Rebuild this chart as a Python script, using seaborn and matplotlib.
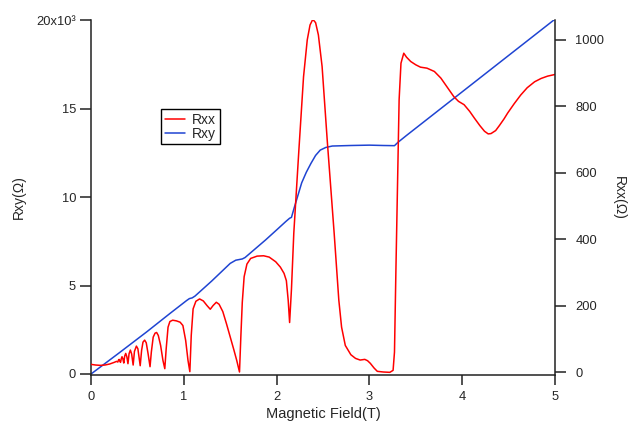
# Quantum Hall measurement: Rxx and Rxy vs magnetic field (two y axes, Igor-like look)

import pandas as pd
import seaborn as sns
import matplotlib
matplotlib.use('Agg')
import matplotlib.pyplot as plt

# Rxx trace (Ohm)
field_xx = [0.00, 0.05, 0.10, 0.15, 0.20, 0.25, 0.275, 0.289, 0.296, 0.303, 0.310, 0.318,
            0.326, 0.334, 0.343, 0.353, 0.363, 0.374, 0.386, 0.398, 0.410, 0.424, 0.438,
            0.454, 0.468, 0.489, 0.505, 0.53, 0.545, 0.56, 0.578, 0.595, 0.615, 0.636,
            0.65, 0.67, 0.69, 0.707, 0.725, 0.75, 0.775, 0.795, 0.81, 0.83, 0.85, 0.88,
            0.92, 0.96, 0.99, 1.02, 1.045, 1.065, 1.08, 1.10, 1.13, 1.17, 1.21, 1.25,
            1.285, 1.315, 1.35, 1.38, 1.42, 1.46, 1.50, 1.54, 1.57, 1.60, 1.615, 1.63,
            1.65, 1.68, 1.72, 1.79, 1.86, 1.92, 1.99, 2.04, 2.08, 2.105, 2.125, 2.14,
            2.16, 2.185, 2.24, 2.29, 2.33, 2.36, 2.39, 2.42, 2.45, 2.49, 2.545, 2.62,
            2.67, 2.70, 2.74, 2.80, 2.85, 2.90, 2.95, 2.98, 3.01, 3.05, 3.085, 3.15,
            3.22, 3.255, 3.27, 3.285, 3.30, 3.32, 3.34, 3.37, 3.40, 3.445, 3.50, 3.55,
            3.62, 3.70, 3.77, 3.84, 3.91, 3.96, 4.02, 4.08, 4.13, 4.19, 4.24, 4.28,
            4.31, 4.36, 4.40, 4.45, 4.49, 4.56, 4.63, 4.70, 4.78, 4.85, 4.92, 5.00]
rxx = [23, 21, 20, 21, 24, 29, 32, 30, 36, 38, 33, 29,
       40, 46, 40, 27, 48, 56, 46, 25, 55, 66, 54,
       21, 62, 78, 70, 19, 65, 90, 96, 88, 55, 16,
       60, 105, 117, 119, 110, 80, 35, 10, 70, 135, 152, 156,
       154, 150, 140, 95, 35, 1, 110, 190, 213, 220, 214, 200,
       189, 200, 210, 204, 182, 145, 106, 66, 35, 0, 110, 210,
       287, 325, 342, 349, 350, 346, 332, 316, 297, 275, 215, 149,
       250, 418, 669, 889, 1000, 1045, 1062, 1052, 1015, 920, 699, 418,
       217, 135, 80, 52, 41, 36, 38, 34, 26, 12, 2, 0,
       -1, 5, 60, 300, 518, 820, 930, 960, 948, 935, 925, 918,
       915, 905, 885, 857, 829, 815, 805, 785, 765, 742, 725, 717,
       718, 727, 742, 762, 780, 808, 834, 856, 874, 884, 891, 896]

# Rxy trace (Ohm)
field_xy = [0.0, 0.3, 0.6, 0.853, 1.03, 1.06, 1.09, 1.12, 1.3, 1.5, 1.56, 1.63, 1.66,
            1.88, 2.0, 2.1, 2.14, 2.16, 2.19, 2.23, 2.27, 2.32, 2.37, 2.42, 2.47,
            2.53, 2.60, 2.8, 3.0, 3.15, 3.27, 3.31, 3.4, 5.0]
rxy = [0, 1180, 2380, 3430, 4150, 4260, 4300, 4400, 5250, 6250, 6430, 6500, 6580,
       7570, 8140, 8620, 8800, 8850, 9400, 10100, 10800, 11400, 11900, 12350, 12650,
       12800, 12880, 12910, 12930, 12910, 12900, 13100, 13480, 20050]

# axis ticks
field_ticks = [0, 1, 2, 3, 4, 5]
rxy_ticks = [0, 5000, 10000, 15000, 20000]
rxy_ticklabels = ['0', '5', '10', '15', '20x10³']
rxx_ticks = [0, 200, 400, 600, 800, 1000]

sns.set_style('ticks')
plt.rcParams['font.family'] = ['Liberation Sans', 'DejaVu Sans']

fig = plt.figure(figsize=(6.29, 4.23), dpi=100)
ax = fig.add_axes([0.1447, 0.1135, 0.7377, 0.8392])
ax2 = ax.twinx()

xy = pd.DataFrame({'B': field_xy, 'R': rxy})
xx = pd.DataFrame({'B': field_xx, 'R': rxx})
sns.lineplot(data=xy, x='B', y='R', ax=ax, color='#1f44d2', lw=1.1, estimator=None, legend=False)
sns.lineplot(data=xx, x='B', y='R', ax=ax2, color='#ff0000', lw=1.1, estimator=None, legend=False)

ax.set_xlim(0, 5)
ax.set_ylim(-56, 20000)
ax2.set_ylim(-9, 1060)

ax.set_xticks(field_ticks)
ax.set_yticks(rxy_ticks)
ax.set_yticklabels(rxy_ticklabels)
ax2.set_yticks(rxx_ticks)

# spines: left, bottom, right only
for a in (ax, ax2):
    a.spines['top'].set_visible(False)
    for s in a.spines.values():
        s.set_linewidth(1.1)
        s.set_color('#222222')
ax.spines['right'].set_visible(False)
ax2.spines['left'].set_visible(False)
ax2.spines['bottom'].set_visible(False)

ax.tick_params(axis='x', direction='out', length=7.5, width=1.1, pad=4, labelsize=9.3, color='#222222')
ax.tick_params(axis='y', direction='out', length=7.7, width=1.1, pad=3, labelsize=9.3, color='#222222')
ax2.tick_params(axis='y', direction='out', length=7.7, width=1.1, pad=7, labelsize=9.3, color='#222222')

ax.set_xlabel('Magnetic Field(T)', fontsize=10.5, labelpad=3)
ax.set_ylabel('Rxy(Ω)', fontsize=10)
ax.yaxis.set_label_coords(-0.14, 0.5)
ax2.set_ylabel('Rxx(Ω)', fontsize=10, rotation=270, va='bottom')
ax2.yaxis.set_label_coords(1.122, 0.5)

# legend box with Rxx first
ax2.legend([ax2.lines[0], ax.lines[0]], ['Rxx', 'Rxy'], loc='upper left',
           bbox_to_anchor=(0.151, 0.749), borderaxespad=0, fontsize=10,
           fancybox=False, edgecolor='black', framealpha=1, handlelength=1.5,
           handletextpad=0.5, labelspacing=0.0, borderpad=0.25)
ax2.get_legend().get_frame().set_linewidth(1.0)

fig.savefig('out.png', dpi=100)
